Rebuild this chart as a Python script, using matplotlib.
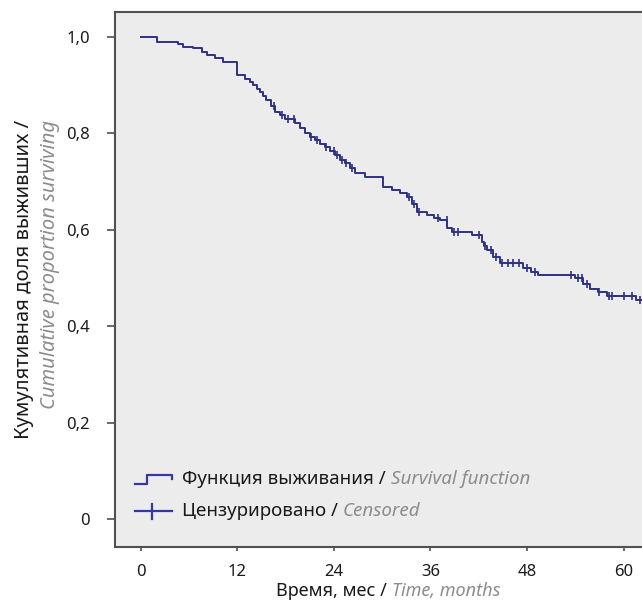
import matplotlib
matplotlib.use("Agg")
import matplotlib.pyplot as plt
import numpy as np
from matplotlib.lines import Line2D
from matplotlib.offsetbox import (AnchoredOffsetbox, DrawingArea, HPacker,
                                  TextArea, VPacker)

plt.rcParams['font.family'] = ['Noto Sans', 'DejaVu Sans']

# Kaplan-Meier steps (time in months, survival after the step)
stepTimes = [0, 2.0, 4.6, 5.2, 6.5, 7.6, 8.2, 9.2, 10.2, 12.0, 12.9, 13.6, 13.9,
             14.4, 14.8, 15.2, 15.6, 16.2, 16.7, 17.3, 17.9, 19.2, 19.8, 20.4,
             21.0, 21.6, 22.3, 22.9, 23.5, 24.1, 24.8, 25.4, 26.0, 26.6, 27.9,
             30.1, 31.2, 32.2, 33.1, 33.7, 34.3, 35.6, 36.4, 37.2, 38.1, 38.7,
             41.2, 42.4, 42.7, 43.0, 43.8, 44.7, 47.5, 48.5, 49.3, 54.0, 55.0,
             55.8, 56.8, 57.9, 61.5, 63.5]
stepSurv = [1.0, 0.989, 0.984, 0.979, 0.976, 0.969, 0.962, 0.955, 0.948, 0.920,
            0.913, 0.906, 0.899, 0.892, 0.886, 0.877, 0.868, 0.856, 0.844, 0.837,
            0.830, 0.820, 0.810, 0.800, 0.792, 0.785, 0.778, 0.772, 0.763, 0.754,
            0.745, 0.737, 0.727, 0.717, 0.709, 0.689, 0.682, 0.675, 0.668, 0.652,
            0.637, 0.630, 0.625, 0.620, 0.603, 0.595, 0.588, 0.575, 0.566, 0.557,
            0.544, 0.530, 0.520, 0.513, 0.506, 0.499, 0.488, 0.476, 0.470, 0.462,
            0.455, 0.455]

# censored observations (months)
censTimes = [16.5, 17.5, 18.3, 19.0, 21.2, 21.9, 23.0, 24.0, 24.4, 25.0, 25.5,
             26.3, 33.3, 34.0, 34.6, 36.9, 38.0, 38.9, 39.4, 42.0, 42.8, 43.5,
             44.2, 44.9, 45.6, 46.2, 47.0, 48.0, 49.0, 53.5, 54.3, 54.8, 55.5,
             57.0, 58.2, 58.6, 60.0, 61.0, 62.0]

xTicks = [0, 12, 24, 36, 48, 60]
yTicks = [0, 0.2, 0.4, 0.6, 0.8, 1.0]
yTickLabels = ["0", "0,2", "0,4", "0,6", "0,8", "1,0"]

lineCol = "#2e3084"
legCol = "#3538a0"
grey = "#8c8c8c"
dark = "#1a1a1a"
spineCol = "#505050"

fig = plt.figure(figsize=(6.42, 6.05), dpi=100)
ax = fig.add_axes([115/642, 1 - 547/605, 540/642, 535/605])
ax.set_facecolor("#ececec")

ax.step(stepTimes, stepSurv, where="post", color=lineCol, lw=1.4)

idx = np.searchsorted(stepTimes, censTimes, side="right") - 1
censY = np.array(stepSurv)[idx]
ax.plot(censTimes, censY, ls="none", marker="|", ms=6, mew=1.2, color=lineCol)

ax.set_xlim(-3.2, 63.9)
ax.set_ylim(-0.058, 1.051)
ax.set_xticks(xTicks)
ax.set_yticks(yTicks)
ax.set_yticklabels(yTickLabels)
ax.tick_params(axis="y", length=6, width=1.2, color=spineCol, pad=12,
               labelsize=12, labelcolor=dark)
ax.tick_params(axis="x", length=3, width=1.2, color=spineCol, pad=9,
               labelsize=12, labelcolor=dark)
for s in ax.spines.values():
    s.set_color(spineCol)
    s.set_linewidth(1.5)


def twoTone(ru, en, size):
    # Russian part in black, English part in grey italic
    return HPacker(children=[TextArea(ru, textprops=dict(size=size, color=dark)),
                             TextArea(en, textprops=dict(size=size, color=grey, style="italic"))],
                   pad=0, sep=0, align="baseline")


fig.add_artist(AnchoredOffsetbox(loc="center", child=twoTone("Время, мес / ", "Time, months", 13),
                                 frameon=False, pad=0,
                                 bbox_to_anchor=(388/642, 1 - 591/605),
                                 bbox_transform=fig.transFigure, borderpad=0))

fig.text(24/642, 1 - 120/605, "Кумулятивная доля выживших /", rotation=90,
         ha="center", va="top", size=14.5, color=dark)
fig.text(50/642, 1 - 120/605, "Cumulative proportion surviving", rotation=90,
         ha="center", va="top", size=14.5, color=grey, style="italic")

# legend built by hand so the labels can have two colours
stepBox = DrawingArea(27, 10, 0, 0)
stepBox.add_artist(Line2D([0, 9, 9, 27, 27], [2, 2, 8.5, 8.5, 5], color=legCol, lw=1.6))
censBox = DrawingArea(27, 10, 0, 0)
censBox.add_artist(Line2D([0, 27], [5, 5], color=legCol, lw=1.6))
censBox.add_artist(Line2D([12, 12], [-0.5, 10.5], color=legCol, lw=1.6))

rows = []
for box, ru, en in [(stepBox, "Функция выживания / ", "Survival function"),
                    (censBox, "Цензурировано / ", "Censored")]:
    rows.append(HPacker(children=[box, twoTone(ru, en, 13.5)], pad=0, sep=7, align="center"))
legBox = VPacker(children=rows, pad=0, sep=10, align="left")
ax.add_artist(AnchoredOffsetbox(loc="lower left", child=legBox, frameon=False, pad=0,
                                bbox_to_anchor=(0.037, 0.05),
                                bbox_transform=ax.transAxes, borderpad=0))

fig.savefig("out.png", dpi=100)
